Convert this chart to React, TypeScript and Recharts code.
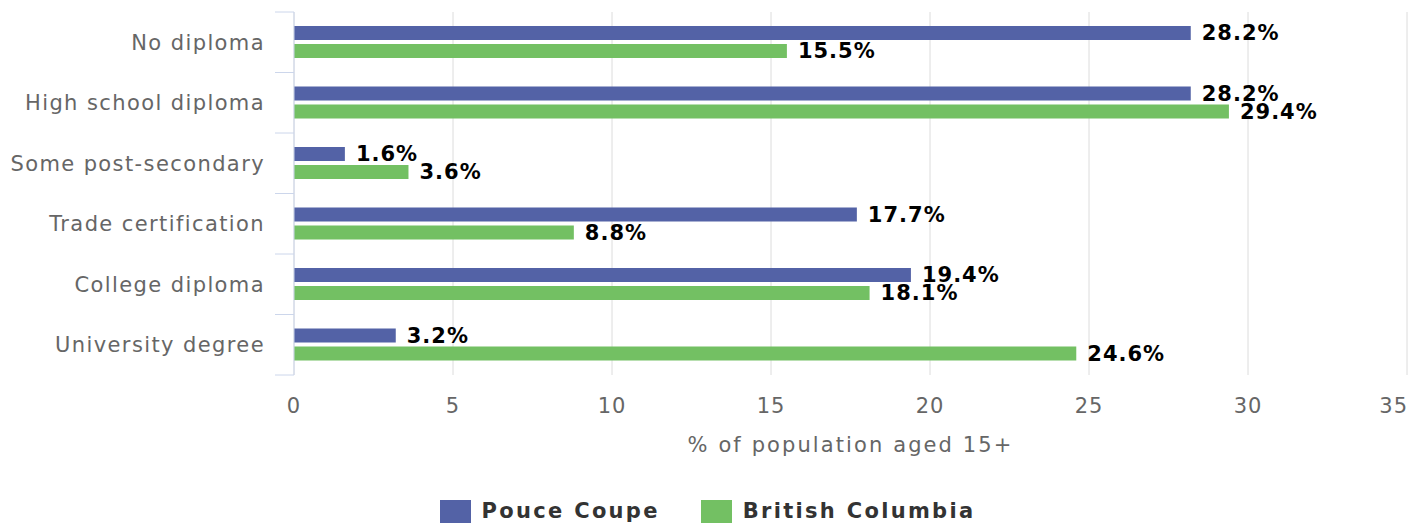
import React from "react";
import {
  BarChart,
  Bar,
  XAxis,
  YAxis,
  CartesianGrid,
  LabelList,
  Legend,
} from "recharts";

const categories = [
  "No diploma",
  "High school diploma",
  "Some post-secondary",
  "Trade certification",
  "College diploma",
  "University degree",
];
const pouceCoupe = [28.2, 28.2, 1.6, 17.7, 19.4, 3.2];
const britishColumbia = [15.5, 29.4, 3.6, 8.8, 18.1, 24.6];
const xTicks = [0, 5, 10, 15, 20, 25, 30, 35];
const seriesNames = ["Pouce Coupe", "British Columbia"];
const seriesColors = ["#5362a6", "#73c063"];
const xAxisTitle = "% of population aged 15+";

const data = categories.map((c, i) => ({
  category: c,
  pc: pouceCoupe[i],
  bc: britishColumbia[i],
}));

const FONT = "'DejaVu Sans', sans-serif";
const Y_TICK_MARGIN = 30;
const BOUNDARY_TICK = 19;

const CategoryTick = (props: any) => {
  const { x, y, payload, index } = props;
  const axisX = x + Y_TICK_MARGIN;
  const off = payload && typeof payload.offset === "number" ? payload.offset : 0;
  const isLast = index === categories.length - 1;
  return (
    <g>
      {off > 0 && (
        <line
          x1={axisX - BOUNDARY_TICK}
          x2={axisX}
          y1={y - off}
          y2={y - off}
          stroke="#ccd6eb"
          strokeWidth={1}
        />
      )}
      {off > 0 && isLast && (
        <line
          x1={axisX - BOUNDARY_TICK}
          x2={axisX}
          y1={y + off}
          y2={y + off}
          stroke="#ccd6eb"
          strokeWidth={1}
        />
      )}
      <text
        x={x + 1}
        y={y}
        dy="0.355em"
        textAnchor="end"
        fill="#666666"
        fontSize={21}
        letterSpacing={1.4}
        fontFamily={FONT}
      >
        {payload.value}
      </text>
    </g>
  );
};

const XTick = (props: any) => {
  const { x, y, payload } = props;
  const isLast = payload.value === xTicks[xTicks.length - 1];
  return (
    <text
      x={isLast ? x + 1 : x}
      y={y}
      dy="0.71em"
      textAnchor={isLast ? "end" : "middle"}
      fill="#666666"
      fontSize={21}
      letterSpacing={1}
      fontFamily={FONT}
    >
      {payload.value}
    </text>
  );
};

const XTitle = (props: any) => {
  const vb = props.viewBox || {};
  return (
    <text
      x={vb.x + vb.width / 2}
      y={vb.y + 71}
      dominantBaseline="middle"
      textAnchor="middle"
      fill="#666666"
      fontSize={21}
      letterSpacing={2.1}
      fontFamily={FONT}
    >
      {xAxisTitle}
    </text>
  );
};

const LegendContent = () => (
  <div
    style={{
      height: 40,
      boxSizing: "border-box",
      paddingTop: 15,
      display: "flex",
      justifyContent: "center",
      alignItems: "flex-start",
      fontFamily: FONT,
    }}
  >
    {seriesNames.map((n, i) => (
      <div
        key={n}
        style={{
          display: "flex",
          alignItems: "center",
          marginLeft: i === 0 ? 0 : 41,
        }}
      >
        <div
          style={{
            width: 31,
            height: 23,
            background: seriesColors[i],
            marginRight: 11,
          }}
        />
        <span
          style={{
            fontSize: 21,
            fontWeight: "bold",
            color: "#333333",
            letterSpacing: 2.3,
            lineHeight: "23px",
          }}
        >
          {n}
        </span>
      </div>
    ))}
  </div>
);

const fmt = (v: any) => `${v}%`;

export default function App() {
  return (
    <div style={{ width: 1408, height: 521, fontFamily: FONT }}>
      <BarChart
        width={1408}
        height={521}
        data={data}
        layout="vertical"
        margin={{ top: 4, right: 9, bottom: 4, left: 0 }}
        barSize={14}
        barGap={4}
      >
        <CartesianGrid
          horizontal={false}
          vertical={true}
          stroke="#dcdcdc"
          strokeWidth={1}
        />
        <XAxis
          type="number"
          domain={[0, 35]}
          ticks={xTicks}
          interval={0}
          axisLine={false}
          tickLine={false}
          tickSize={0}
          tickMargin={23}
          height={110}
          tick={<XTick />}
          label={<XTitle />}
        />
        <YAxis
          type="category"
          dataKey="category"
          width={286}
          axisLine={{ stroke: "#ccd6eb", strokeWidth: 1 }}
          tickLine={false}
          tickSize={0}
          tickMargin={Y_TICK_MARGIN}
          interval={0}
          tick={<CategoryTick />}
        />
        <Legend verticalAlign="bottom" content={<LegendContent />} />
        <Bar
          dataKey="pc"
          name={seriesNames[0]}
          fill={seriesColors[0]}
          isAnimationActive={false}
        >
          <LabelList
            dataKey="pc"
            position="right"
            offset={11}
            formatter={fmt}
            fill="#000000"
            fontSize={21}
            fontWeight="bold"
            letterSpacing={1}
            fontFamily={FONT}
          />
        </Bar>
        <Bar
          dataKey="bc"
          name={seriesNames[1]}
          fill={seriesColors[1]}
          isAnimationActive={false}
        >
          <LabelList
            dataKey="bc"
            position="right"
            offset={11}
            formatter={fmt}
            fill="#000000"
            fontSize={21}
            fontWeight="bold"
            letterSpacing={1}
            fontFamily={FONT}
          />
        </Bar>
      </BarChart>
    </div>
  );
}
